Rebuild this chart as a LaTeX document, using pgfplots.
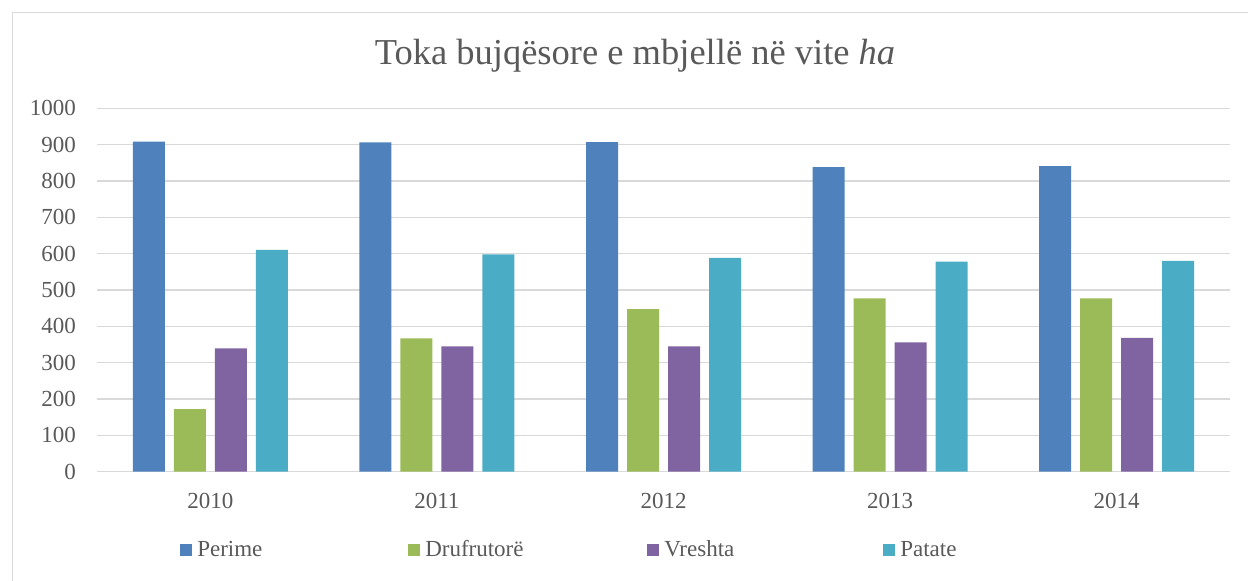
\documentclass[border=0pt]{standalone}
\usepackage{pgfplots}
\pgfplotsset{compat=1.18}
\usepackage{fontspec}
\setmainfont{Liberation Serif}
\definecolor{perime}{HTML}{4F81BD}
\definecolor{drufrutore}{HTML}{9BBB59}
\definecolor{vreshta}{HTML}{8064A2}
\definecolor{patate}{HTML}{4BACC6}
\definecolor{gridgray}{HTML}{D9D9D9}
\definecolor{txtgray}{HTML}{595959}
\begin{document}
\begin{tikzpicture}[x=1bp,y=1bp]
\useasboundingbox (0,0) rectangle (1248,581);
% chart frame
\draw[gridgray, line width=1bp] (12.5,-20) -- (12.5,568.5) -- (1270,568.5);
\node[anchor=base, text=txtgray, font=\fontsize{36.5bp}{42bp}\selectfont] at (635,516)
  {Toka bujqësore e mbjellë në vite \textit{ha}};
\begin{axis}[
    at={(97bp,109.4bp)}, anchor=south west,
    scale only axis,
    width=1133bp, height=363.3bp,
    ybar=9bp, bar width=32bp,
    xmin=-0.5, xmax=4.5,
    ymin=0, ymax=1000,
    xtick={0,1,2,3,4},
    xticklabels={2010,2011,2012,2013,2014},
    ytick={0,100,...,1000},
    axis x line*=bottom,
    axis y line*=left,
    y axis line style={draw=none},
    x axis line style={gridgray, line width=1.3bp},
    major tick length=0pt,
    ymajorgrids,
    major grid style={gridgray, line width=1.3bp},
    /pgf/number format/assume math mode=true,
    /pgf/number format/1000 sep={},
    tick label style={text=txtgray, font=\fontsize{23bp}{27bp}\selectfont, inner sep=0pt},
    yticklabel style={anchor=east, xshift=-21bp},
    xticklabel style={anchor=north, yshift=-21.4bp},
    legend columns=4,
    legend style={at={(0.0733,-0.213)}, anchor=west, draw=none, fill=none,
        inner sep=0pt, column sep=0pt, text=txtgray,
        font=\fontsize{23bp}{27bp}\selectfont,
        nodes={inner sep=0pt, anchor=base}},
    legend image code/.code={\fill[#1, draw=none] (0bp,0bp) rectangle (12bp,12bp);},
]
\addplot[fill=perime, draw=none] coordinates {(0,908) (1,906) (2,907) (3,838) (4,841)};
\addlegendentry{\makebox[216bp][l]{\hspace{5bp}Perime}}
\addplot[fill=drufrutore, draw=none] coordinates {(0,172) (1,367) (2,447) (3,477) (4,477)};
\addlegendentry{\makebox[227bp][l]{\hspace{5bp}Drufrutorë}}
\addplot[fill=vreshta, draw=none] coordinates {(0,339) (1,345) (2,345) (3,356) (4,368)};
\addlegendentry{\makebox[224bp][l]{\hspace{5bp}Vreshta}}
\addplot[fill=patate, draw=none] coordinates {(0,610) (1,598) (2,588) (3,578) (4,580)};
\addlegendentry{\hspace{5bp}Patate}
\end{axis}
\end{tikzpicture}
\end{document}
